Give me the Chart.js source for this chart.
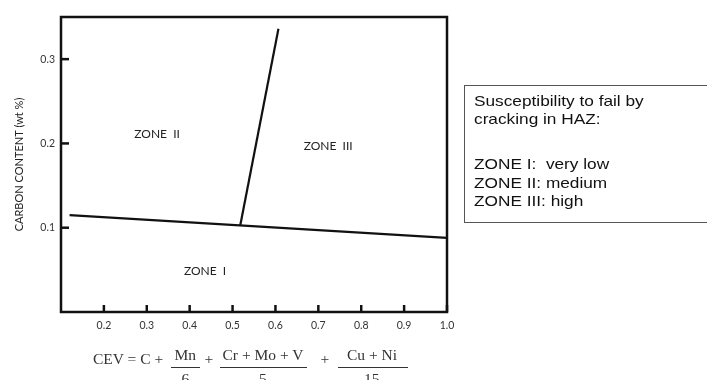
<!DOCTYPE html>
<html>
<head>
<meta charset="utf-8">
<script src="https://cdn.jsdelivr.net/npm/chart.js@4.4.1/dist/chart.umd.min.js"></script>
<style>
  html, body { margin: 0; padding: 0; background: #fff; }
  #wrap { position: relative; width: 707px; height: 380px; overflow: hidden; }
  #chart { position: absolute; left: 0; top: 0; }
  .box { position: absolute; left: 464px; top: 85px; width: 260px; height: 136px;
         border: 1px solid #555; box-sizing: content-box; }
  .box .txt { position: absolute; left: 9px; top: 6px; transform: scaleX(1.15); transform-origin: left top;
              font-family: "Liberation Sans", Arial, sans-serif; font-size: 15px; line-height: 18.3px;
              color: #111; white-space: nowrap; }
  .box p { margin: 0; }
  .box p + p { margin-top: 26.7px; }
  .f { position: absolute; font-family: "Liberation Serif", "Times New Roman", serif; font-size: 15.5px;
       line-height: 1; color: #333; white-space: pre; }
  .bar { position: absolute; height: 1px; background: #333; }
</style>
</head>
<body>
<div id="wrap">
  <canvas id="chart" width="707" height="380"></canvas>
  <div class="box"><div class="txt">
    <p>Susceptibility to fail by<br>cracking in HAZ:</p>
    <p>ZONE I:&nbsp; very low<br>ZONE II: medium<br>ZONE III: high</p>
  </div></div>
</div>
<script>
// boundary lines of the diagram (CEV, carbon wt %)
const lowerCEV = [0.12, 1.0];
const lowerC = [0.115, 0.088];
const splitCEV = [0.518, 0.607];
const splitC = [0.103, 0.336];

const xTicks = [0.2, 0.3, 0.4, 0.5, 0.6, 0.7, 0.8, 0.9, 1.0];
const yTicks = [0.1, 0.2, 0.3];

// zone labels, placed in data units
const zoneNames = ['ZONE  I', 'ZONE  II', 'ZONE  III'];
const zoneCEV = [0.436, 0.324, 0.723];
const zoneC = [0.049, 0.211, 0.197];

const toPts = (xs, ys) => xs.map((x, i) => ({ x: x, y: ys[i] }));

// frame, inward tick marks and zone names
const framePlugin = {
  id: 'frame',
  afterDraw(chart) {
    const c = chart.ctx, a = chart.chartArea;
    const xs = chart.scales.x, ys = chart.scales.y;
    c.save();
    c.strokeStyle = '#111';
    c.lineWidth = 2.5;
    c.strokeRect(a.left, a.top, a.right - a.left, a.bottom - a.top);
    xTicks.forEach(v => {
      const px = xs.getPixelForValue(v);
      c.beginPath(); c.moveTo(px, a.bottom); c.lineTo(px, a.bottom - 7); c.stroke();
    });
    yTicks.forEach(v => {
      const py = ys.getPixelForValue(v);
      c.beginPath(); c.moveTo(a.left, py); c.lineTo(a.left + 8, py); c.stroke();
    });
    c.fillStyle = '#222';
    c.font = '12px Lato';
    c.textAlign = 'center';
    c.textBaseline = 'middle';
    zoneNames.forEach((n, i) => {
      c.fillText(n, xs.getPixelForValue(zoneCEV[i]), ys.getPixelForValue(zoneC[i]));
    });
    c.restore();
  }
};

new Chart(document.getElementById('chart'), {
  type: 'scatter',
  data: {
    datasets: [{
      data: toPts(lowerCEV, lowerC),
      showLine: true, borderColor: '#111', borderWidth: 2.2, pointRadius: 0
    }, {
      data: toPts(splitCEV, splitC),
      showLine: true, borderColor: '#111', borderWidth: 2.2, pointRadius: 0
    }]
  },
  options: {
    responsive: false,
    animation: false,
    layout: { padding: { left: 0, top: 17, right: 260, bottom: 0 } },
    plugins: { legend: { display: false }, tooltip: { enabled: false } },
    scales: {
      x: {
        type: 'linear', min: 0.1, max: 1.0,
        afterBuildTicks: s => { s.ticks = xTicks.map(v => ({ value: v })); },
        afterFit: s => { s.height = 68; },
        grid: { display: false, drawTicks: false }, border: { display: false },
        ticks: { padding: 7, color: '#333', font: { family: 'Lato', size: 10.5 },
                 callback: v => v.toFixed(1) }
      },
      y: {
        type: 'linear', min: 0, max: 0.35,
        afterBuildTicks: s => { s.ticks = yTicks.map(v => ({ value: v })); },
        afterFit: s => { s.width = 61; },
        grid: { display: false, drawTicks: false }, border: { display: false },
        ticks: { padding: 6, color: '#333', font: { family: 'Lato', size: 10.5 },
                 callback: v => v.toFixed(1) },
        title: { display: true, text: 'CARBON CONTENT (wt %)', color: '#222',
                 font: { family: 'Lato', size: 11 }, padding: { top: 13, bottom: 0 } }
      }
    }
  },
  plugins: [framePlugin]
});

// CEV formula under the x axis
const wrap = document.getElementById('wrap');
function put(text, cx, base, alignLeft) {
  const s = document.createElement('div');
  s.className = 'f';
  s.textContent = text;
  wrap.appendChild(s);
  const w = s.offsetWidth;
  s.style.left = (alignLeft ? cx : cx - w / 2) + 'px';
  s.style.top = (base - 13) + 'px';
}
function bar(x0, x1, y) {
  const b = document.createElement('div');
  b.className = 'bar';
  b.style.left = x0 + 'px'; b.style.width = (x1 - x0) + 'px'; b.style.top = y + 'px';
  wrap.appendChild(b);
}
put('CEV = C +', 93, 364, true);
put('Mn', 185.5, 360); bar(171, 200, 367); put('6', 185.5, 384);
put('+', 209, 364);
put('Cr + Mo + V', 263, 360); bar(220, 307, 367); put('5', 263, 384);
put('+', 325, 364);
put('Cu + Ni', 372, 360); bar(338, 408, 367); put('15', 372, 384);
</script>
</body>
</html>
